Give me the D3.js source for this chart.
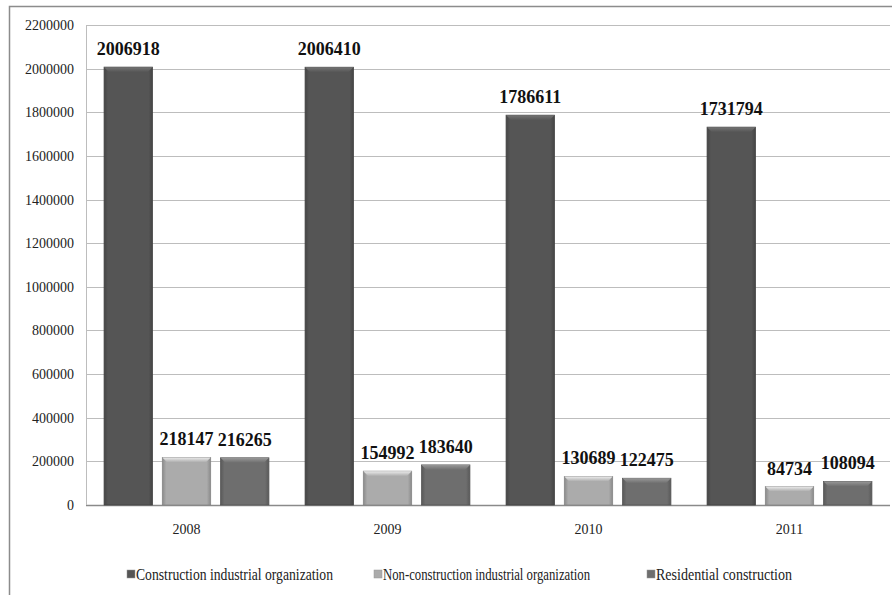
<!DOCTYPE html>
<html>
<head>
<meta charset="utf-8">
<script src="https://cdn.jsdelivr.net/npm/d3@7"></script>
<style>
  body { margin: 0; background: #fff; }
</style>
</head>
<body>
<script>
// chart data
var years = ["2008", "2009", "2010", "2011"];
var seriesNames = ["Construction industrial organization", "Non-construction industrial organization", "Residential construction"];
var construction = [2006918, 2006410, 1786611, 1731794];
var nonConstruction = [218147, 154992, 130689, 84734];
var residential = [216265, 183640, 122475, 108094];
var yTicks = [0, 200000, 400000, 600000, 800000, 1000000, 1200000, 1400000, 1600000, 1800000, 2000000, 2200000];

var seriesColors = ["#555555", "#ababab", "#6e6e6e"];
var allSeries = [construction, nonConstruction, residential];
var serif = "Liberation Serif";

var svgWidth = 892, svgHeight = 595;
var margin = {top: 25, right: 2, bottom: 90, left: 86};
var plotBottom = 505;

var svg = d3.select("body").append("svg")
    .attr("width", svgWidth)
    .attr("height", svgHeight);

// outer chart border (top + left visible)
svg.append("path")
    .attr("d", "M9.5," + svgHeight + " V6.5 H" + svgWidth)
    .attr("fill", "none")
    .attr("stroke", "#8c8c8c")
    .attr("stroke-width", 1.5);

var defs = svg.append("defs");
seriesColors.forEach(function(c, i) {
    var g = defs.append("linearGradient").attr("id", "side" + i)
        .attr("x1", 0).attr("x2", 1).attr("y1", 0).attr("y2", 0);
    g.append("stop").attr("offset", "0%").attr("stop-color", d3.color(c).darker(0.6));
    g.append("stop").attr("offset", "8%").attr("stop-color", c);
    g.append("stop").attr("offset", "92%").attr("stop-color", c);
    g.append("stop").attr("offset", "100%").attr("stop-color", d3.color(c).darker(0.6));
    var t = defs.append("linearGradient").attr("id", "top" + i)
        .attr("x1", 0).attr("x2", 0).attr("y1", 0).attr("y2", 1);
    t.append("stop").attr("offset", "0%").attr("stop-color", d3.color(c).brighter(0.9));
    t.append("stop").attr("offset", "100%").attr("stop-color", c);
});

var y = d3.scaleLinear()
    .domain([0, 2200000])
    .range([plotBottom, margin.top]);

var x = d3.scaleBand()
    .domain(years)
    .range([margin.left, svgWidth - margin.right])
    .paddingInner(0.18)
    .paddingOuter(0.09);

var xSub = d3.scaleBand()
    .domain([0, 1, 2])
    .range([0, x.bandwidth()])
    .paddingInner(0.17);

// gridlines
svg.append("g")
    .selectAll("line")
    .data(yTicks)
    .enter()
    .append("line")
    .attr("x1", margin.left)
    .attr("x2", svgWidth - margin.right)
    .attr("y1", function(d) { return Math.round(y(d)) + 0.5; })
    .attr("y2", function(d) { return Math.round(y(d)) + 0.5; })
    .attr("stroke", function(d) { return d === 0 ? "#8a8a8a" : "#bdbdbd"; })
    .attr("stroke-width", function(d) { return d === 0 ? 1.5 : 1; });

// left plot edge
svg.append("line")
    .attr("x1", margin.left + 0.5).attr("x2", margin.left + 0.5)
    .attr("y1", margin.top).attr("y2", plotBottom)
    .attr("stroke", "#bdbdbd");

// y axis labels
var yAxis = d3.axisLeft(y).tickValues(yTicks).tickSize(0).tickPadding(12)
    .tickFormat(function(d) { return String(d); });
var yg = svg.append("g")
    .attr("transform", "translate(" + margin.left + ",0)")
    .call(yAxis);
yg.select(".domain").remove();
yg.selectAll("text")
    .attr("font-family", serif)
    .attr("font-size", 14)
    .attr("fill", "#222");

// x axis labels
var xAxis = d3.axisBottom(x).tickSize(0).tickPadding(19);
var xg = svg.append("g")
    .attr("transform", "translate(0," + plotBottom + ")")
    .call(xAxis);
xg.select(".domain").remove();
xg.selectAll("text")
    .attr("font-family", serif)
    .attr("font-size", 14)
    .attr("fill", "#222");

// bars
var groups = svg.append("g")
    .selectAll("g")
    .data(years)
    .enter()
    .append("g")
    .attr("transform", function(d) { return "translate(" + x(d) + ",0)"; });

var barData = function(d, yi) {
    return allSeries.map(function(s, si) { return {series: si, value: s[yi]}; });
};

var bars = groups.selectAll("g.bar")
    .data(barData)
    .enter()
    .append("g")
    .attr("class", "bar");

bars.append("rect")
    .attr("x", function(d) { return xSub(d.series); })
    .attr("y", function(d) { return y(d.value); })
    .attr("width", xSub.bandwidth())
    .attr("height", function(d) { return plotBottom - y(d.value); })
    .attr("fill", function(d) { return "url(#side" + d.series + ")"; })
    .attr("stroke", function(d) { return d3.color(seriesColors[d.series]).darker(0.7); })
    .attr("stroke-width", 0.8);

// top bevel
bars.append("path")
    .attr("d", function(d) {
        var x0 = xSub(d.series), w = xSub.bandwidth(), t = y(d.value), b = 5;
        return "M" + x0 + "," + t + " H" + (x0 + w) + " L" + (x0 + w - b) + "," + (t + b) +
            " H" + (x0 + b) + " Z";
    })
    .attr("fill", function(d) { return "url(#top" + d.series + ")"; });

// value labels
bars.append("text")
    .attr("x", function(d) { return xSub(d.series) + xSub.bandwidth() / 2; })
    .attr("y", function(d) { return y(d.value) - 12; })
    .attr("text-anchor", "middle")
    .attr("font-family", serif)
    .attr("font-weight", "bold")
    .attr("font-size", 18)
    .attr("fill", "#111")
    .text(function(d) { return d.value; });

// legend
var legendX = [127, 374, 647];
var legend = svg.append("g")
    .selectAll("g")
    .data(seriesNames)
    .enter()
    .append("g")
    .attr("transform", function(d, i) { return "translate(" + legendX[i] + ",575)"; });

legend.append("rect")
    .attr("x", 0).attr("y", -5)
    .attr("width", 8).attr("height", 8)
    .attr("fill", function(d, i) { return seriesColors[i]; })
    .attr("stroke", "#999")
    .attr("stroke-width", 0.5);

legend.append("text")
    .attr("x", 9)
    .attr("y", 5)
    .attr("font-family", serif)
    .attr("font-size", 16)
    .attr("fill", "#222")
    .attr("textLength", function(d, i) { return [197, 207, 136][i]; })
    .attr("lengthAdjust", "spacingAndGlyphs")
    .text(function(d) { return d; });
</script>
</body>
</html>
